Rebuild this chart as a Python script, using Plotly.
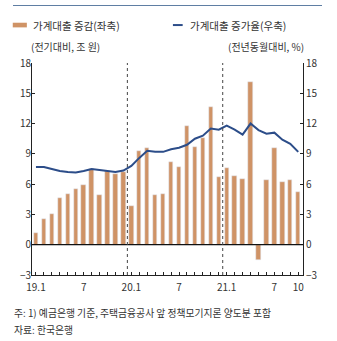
import plotly.graph_objects as go

# Monthly household lending, Jan 2019 - Oct 2021
months = [f"{y}.{m}" for y in (19, 20, 21) for m in range(1, 13)][:34]
loan_change = [1.2, 2.5, 3.0, 4.6, 5.0, 5.5, 5.9, 7.5, 4.9, 7.3, 7.0, 7.2,
               3.8, 9.3, 9.6, 4.9, 5.0, 8.2, 7.7, 11.8, 9.7, 10.6, 13.6, 6.7,
               7.6, 6.8, 6.5, 16.1, -1.5, 6.4, 9.6, 6.2, 6.4, 5.2]
loan_growth = [7.7, 7.7, 7.5, 7.3, 7.2, 7.15, 7.3, 7.5, 7.4, 7.3, 7.2, 7.35,
               7.8, 8.6, 9.3, 9.2, 9.2, 9.45, 9.6, 9.9, 10.5, 10.8, 11.5, 11.4,
               11.8, 11.4, 10.9, 12.0, 11.35, 11.0, 11.1, 10.4, 10.0, 9.2]
tick_labels = {"19.1": "19.1", "19.7": "7", "20.1": "20.1", "20.7": "7",
               "21.1": "21.1", "21.7": "7", "21.10": "10"}

FONT = "Noto Sans CJK KR"
BAR = "#cf9366"
LINE = "#2c4d89"
RULE = "#5f7ea3"
TXT = "#333333"

idx = list(range(len(months)))
tickvals = idx
ticktext = [tick_labels.get(m, "") for m in months]

fig = go.Figure()
fig.add_trace(go.Bar(x=idx, y=loan_change, marker_color=BAR, width=0.55,
                     name="가계대출 증감(좌축)", showlegend=False))
fig.add_trace(go.Scatter(x=idx, y=loan_growth, mode="lines", yaxis="y2",
                         line=dict(color=LINE, width=2),
                         name="가계대출 증가율(우축)", showlegend=False))

axis_common = dict(range=[-3, 18], dtick=3, tick0=-3, showgrid=False,
                   showline=True, linecolor="#222", linewidth=1,
                   ticks="inside", ticklen=3, tickcolor="#222",
                   tickfont=dict(family=FONT, size=10, color=TXT),
                   zeroline=False)

fig.update_layout(
    width=337, height=341,
    margin=dict(l=32, r=34, t=63, b=66),
    paper_bgcolor="white", plot_bgcolor="white",
    bargap=0,
    xaxis=dict(range=[-0.5, 33.6], tickvals=tickvals, ticktext=ticktext,
               showgrid=False, showline=True, linecolor="#222", linewidth=1,
               ticks="inside", ticklen=3, tickcolor="#222", zeroline=False,
               ticklabelstandoff=3,
               tickfont=dict(family=FONT, size=10, color=TXT)),
    yaxis=dict(**axis_common, side="left", ticklabelstandoff=-2),
    yaxis2=dict(**axis_common, side="right", overlaying="y"),
)

shapes = []
# zero reference line
shapes.append(dict(type="line", xref="paper", yref="y", x0=0, x1=1, y0=0, y1=0,
                   line=dict(color="#111", width=1.2)))
# year dividers between December and January
for i, m in enumerate(months):
    if m.endswith(".1") and i > 0:
        shapes.append(dict(type="line", xref="x", yref="paper", x0=i - 0.5, x1=i - 0.5,
                           y0=0, y1=1, line=dict(color="#444", width=1, dash="dot")))
# legend swatches
shapes.append(dict(type="rect", xref="paper", yref="paper",
                   x0=-0.071, x1=-0.019, y0=1.168, y1=1.19,
                   fillcolor=BAR, line=dict(width=0)))
shapes.append(dict(type="line", xref="paper", yref="paper",
                   x0=0.52, x1=0.556, y0=1.179, y1=1.179,
                   line=dict(color=LINE, width=2)))
fig.update_layout(shapes=shapes)

ann = [
    dict(text="가계대출 증감(좌축)", x=-0.0035, y=1.179, xanchor="left", yanchor="middle", size=10.5),
    dict(text="가계대출 증가율(우축)", x=0.575, y=1.179, xanchor="left", yanchor="middle", size=10.5),
    dict(text="(전기대비, 조 원)", x=-0.011, y=1.08, xanchor="left", yanchor="middle"),
    dict(text="(전년동월대비, %)", x=1.01, y=1.08, xanchor="right", yanchor="middle"),
    dict(text="주: 1) 예금은행 기준, 주택금융공사 앞 정책모기지론 양도분 포함",
         x=-0.074, y=-0.18, xanchor="left", yanchor="middle", size=9.8),
    dict(text="자료: 한국은행", x=-0.074, y=-0.26, xanchor="left", yanchor="middle", size=9.8),
]
annotations = [
    dict(text=a["text"], x=a["x"], y=a["y"], xref="paper", yref="paper",
         xanchor=a["xanchor"], yanchor=a["yanchor"], showarrow=False,
         font=dict(family=FONT, size=a.get("size", 10), color=TXT))
    for a in ann
]
# header rule drawn as a thin filled annotation box across the top
annotations.append(dict(text=" ", x=-0.07, y=1.27, xref="paper", yref="paper",
                        xanchor="left", yanchor="middle", showarrow=False,
                        width=309, height=1, borderpad=0, borderwidth=0,
                        bgcolor=RULE, font=dict(size=1, color=RULE)))
fig.update_layout(annotations=annotations)

fig.write_html("out.html")
